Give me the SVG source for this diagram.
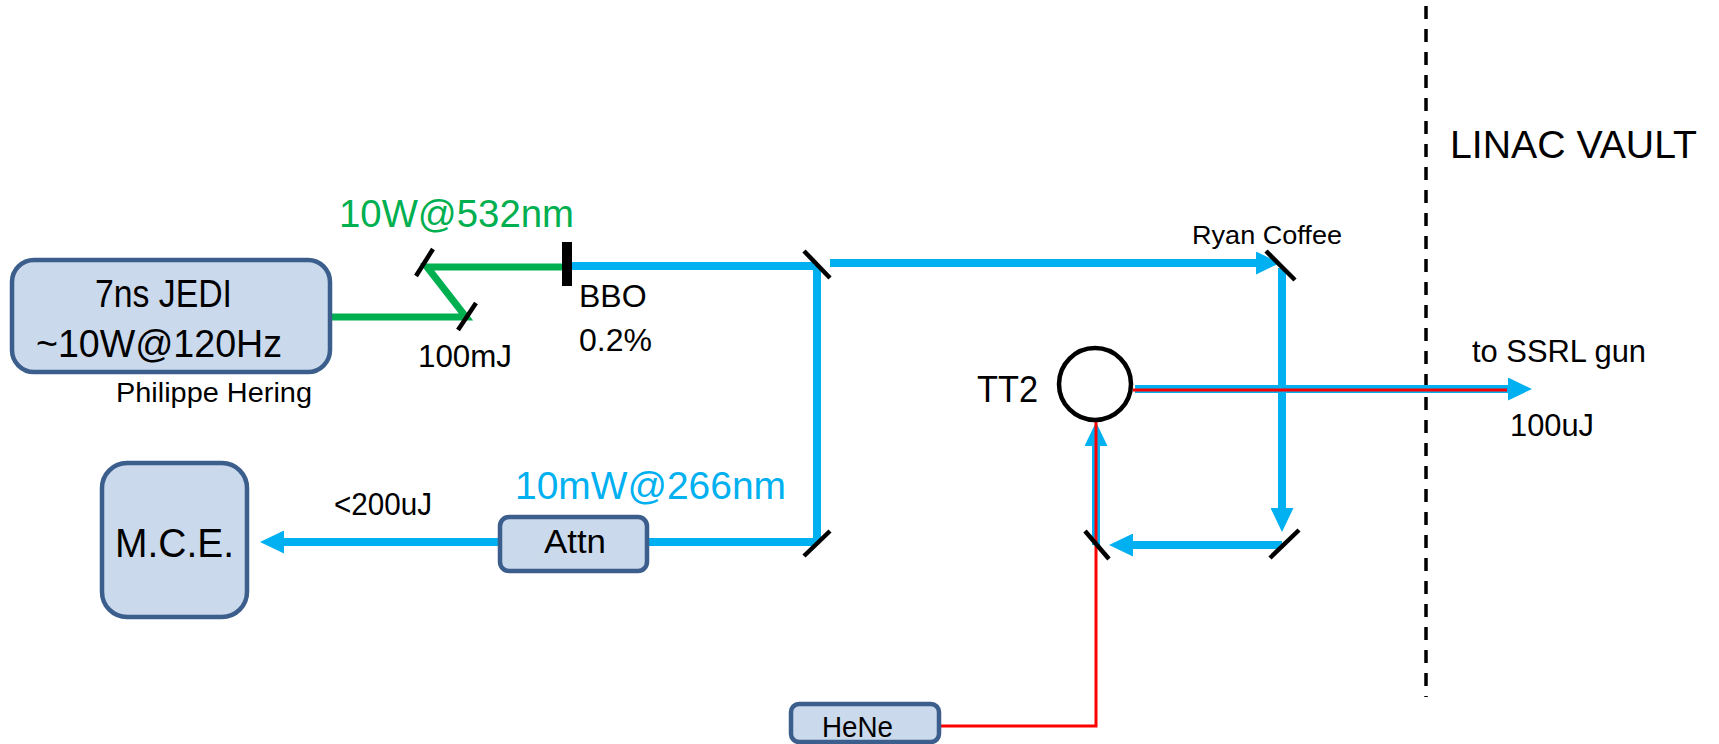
<svg xmlns="http://www.w3.org/2000/svg" width="1719" height="744" viewBox="0 0 1719 744">
<style>
text{font-family:"Liberation Sans",Arial,sans-serif;fill:#000}
.box{fill:#CAD9EB;stroke:#3B5E8C;stroke-width:4.5}
.blue{fill:none;stroke:#00B0F0;stroke-width:8}
.green{fill:none;stroke:#00B050;stroke-width:7}
.red{fill:none;stroke:#FF0000;stroke-width:3}
.mirror{stroke:#000;stroke-width:4.5;fill:none}
</style>
<defs>
<marker id="arr" markerUnits="userSpaceOnUse" markerWidth="24" markerHeight="23" refX="6" refY="11.5" orient="auto" viewBox="0 0 24 23">
<path d="M0,0 L24,11.5 L0,23 z" fill="#00B0F0"/>
</marker>
</defs>
<rect width="1719" height="744" fill="#fff"/>

<g id="vault-boundary">
<path d="M1426,6 V697" stroke="#000" stroke-width="3.5" stroke-dasharray="13 10" fill="none"/>
<text x="1450" y="158" font-size="39" textLength="247" lengthAdjust="spacingAndGlyphs">LINAC VAULT</text>
</g>

<g id="connectors">
<path class="green" d="M330,317 H466 L427,267 H563"/>
<path class="blue" d="M572,266 H817"/>
<path class="blue" d="M830,263 H1262" marker-end="url(#arr)"/>
<path class="blue" d="M817,266 V542"/>
<path class="blue" d="M817,542 H647"/>
<path class="blue" d="M500,542 H278" marker-end="url(#arr)"/>
<path class="blue" d="M1282,268 V514" marker-end="url(#arr)"/>
<path class="blue" d="M1282,545 H1127" marker-end="url(#arr)"/>
<path class="blue" d="M1096,545 V440" marker-end="url(#arr)"/>
<path class="blue" d="M1135,389 H1514" marker-end="url(#arr)"/>
<path class="red" d="M939,726 H1096 V420"/>
<path class="red" d="M1133,390 H1507"/>
</g>

<g id="mirrors">
<line class="mirror" x1="458" y1="330" x2="476" y2="303"/>
<line class="mirror" x1="416" y1="276" x2="433" y2="249"/>
<line class="mirror" x1="804" y1="251" x2="830" y2="278"/>
<line class="mirror" x1="804" y1="556" x2="830" y2="531"/>
<line class="mirror" x1="1266" y1="251" x2="1295" y2="280"/>
<line class="mirror" x1="1270" y1="558" x2="1299" y2="530"/>
<line class="mirror" x1="1085" y1="531" x2="1109" y2="559"/>
</g>

<g id="jedi">
<rect class="box" x="12" y="260" width="318" height="112" rx="22"/>
<text x="95" y="307" font-size="38.5" textLength="137" lengthAdjust="spacingAndGlyphs">7ns JEDI</text>
<text x="36" y="357" font-size="38" textLength="246" lengthAdjust="spacingAndGlyphs">~10W@120Hz</text>
<text x="116" y="402" font-size="27" textLength="196" lengthAdjust="spacingAndGlyphs">Philippe Hering</text>
</g>

<g id="bbo">
<rect x="562" y="242" width="10" height="44" fill="#000"/>
<text x="579" y="307" font-size="32">BBO</text>
<text x="579" y="351" font-size="32">0.2%</text>
</g>

<g id="labels">
<text x="339" y="227" font-size="38" textLength="235" lengthAdjust="spacingAndGlyphs" style="fill:#00B050">10W@532nm</text>
<text x="418" y="367" font-size="32" textLength="94" lengthAdjust="spacingAndGlyphs">100mJ</text>
<text x="1192" y="244" font-size="26" textLength="150" lengthAdjust="spacingAndGlyphs">Ryan Coffee</text>
<text x="1472" y="362" font-size="31" textLength="174" lengthAdjust="spacingAndGlyphs">to SSRL gun</text>
<text x="1510" y="436" font-size="31" textLength="84" lengthAdjust="spacingAndGlyphs">100uJ</text>
<text x="515" y="499" font-size="38" textLength="271" lengthAdjust="spacingAndGlyphs" style="fill:#00B0F0">10mW@266nm</text>
<text x="334" y="515" font-size="31" textLength="98" lengthAdjust="spacingAndGlyphs">&lt;200uJ</text>
</g>

<g id="tt2">
<circle cx="1095" cy="384" r="36" fill="none" stroke="#000" stroke-width="4.5"/>
<text x="977" y="402" font-size="37" textLength="61" lengthAdjust="spacingAndGlyphs">TT2</text>
</g>

<g id="attn">
<rect class="box" x="500" y="517" width="147" height="54" rx="9"/>
<text x="544" y="553" font-size="33" textLength="62" lengthAdjust="spacingAndGlyphs">Attn</text>
</g>

<g id="mce">
<rect class="box" x="102" y="463" width="145" height="154" rx="25"/>
<text x="115" y="557" font-size="40" textLength="119" lengthAdjust="spacingAndGlyphs">M.C.E.</text>
</g>

<g id="hene">
<rect class="box" x="791" y="704" width="148" height="38" rx="8"/>
<text x="822" y="737" font-size="29" textLength="71" lengthAdjust="spacingAndGlyphs">HeNe</text>
</g>
</svg>
